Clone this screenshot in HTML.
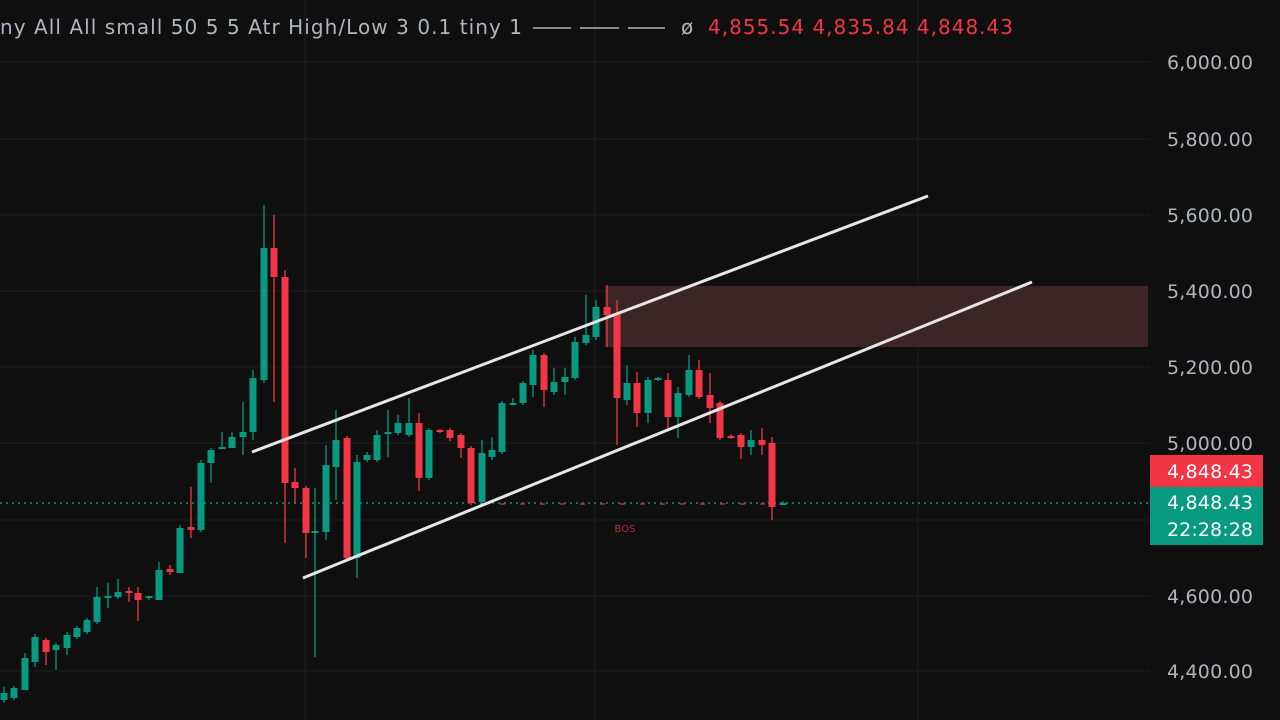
<!DOCTYPE html>
<html><head><meta charset="utf-8"><style>
html,body{margin:0;padding:0;background:#0f0f0f;overflow:hidden}
svg{display:block}
text{font-family:"DejaVu Sans","Liberation Sans",sans-serif}
</style></head><body>
<svg id="s" width="1280" height="720" xmlns="http://www.w3.org/2000/svg">
<rect width="1280" height="720" fill="#0f0f0f"/>
<g stroke="#1c1c1c" stroke-width="1">
<line x1="0" y1="62" x2="1150" y2="62"/><line x1="0" y1="139" x2="1150" y2="139"/>
<line x1="0" y1="215" x2="1150" y2="215"/><line x1="0" y1="291" x2="1150" y2="291"/>
<line x1="0" y1="367" x2="1150" y2="367"/><line x1="0" y1="443" x2="1150" y2="443"/>
<line x1="0" y1="520" x2="1150" y2="520"/><line x1="0" y1="596" x2="1150" y2="596"/>
<line x1="0" y1="671" x2="1150" y2="671"/>
<line x1="305" y1="0" x2="305" y2="720"/><line x1="595" y1="0" x2="595" y2="720"/><line x1="918" y1="0" x2="918" y2="720"/>
</g>
<rect x="605" y="286" width="543" height="61" fill="#3b2526"/>
<line x1="0" y1="503" x2="1150" y2="503" stroke="#089981" stroke-width="1.5" stroke-dasharray="2,4"/>
<line x1="480" y1="504" x2="780" y2="504" stroke="#b2323c" stroke-width="1.5" stroke-dasharray="5,15"/>
<text x="625" y="532" fill="#b2323c" font-size="10" text-anchor="middle">BOS</text>
<g id="c"></g>
<line x1="252" y1="452" x2="928" y2="196" stroke="#e6e6e6" stroke-width="3"/>
<line x1="303" y1="578" x2="1032" y2="282" stroke="#e6e6e6" stroke-width="3"/>
<g fill="#b2b5be" font-size="19" text-anchor="end">
<text x="1253" y="69" textLength="86">6,000.00</text><text x="1253" y="146" textLength="86">5,800.00</text>
<text x="1253" y="222" textLength="86">5,600.00</text><text x="1253" y="298" textLength="86">5,400.00</text>
<text x="1253" y="374" textLength="86">5,200.00</text><text x="1253" y="450" textLength="86">5,000.00</text>
<text x="1253" y="603" textLength="86">4,600.00</text><text x="1253" y="678" textLength="86">4,400.00</text>
</g>
<rect x="1150" y="455" width="113" height="32" fill="#f23645"/>
<rect x="1150" y="487" width="113" height="58" fill="#089981"/>
<g fill="#fff" font-size="19" text-anchor="end">
<text x="1253" y="478" textLength="86">4,848.43</text><text x="1253" y="509" textLength="86">4,848.43</text><text x="1253" y="536" textLength="86">22:28:28</text>
</g>
<text x="0" y="34" font-size="20" fill="#b2b5be" textLength="522">ny All All small 50 5 5 Atr High/Low 3 0.1 tiny 1</text>
<g stroke="#b2b5be" stroke-width="1.5"><line x1="533" y1="28" x2="571" y2="28"/><line x1="580" y1="28" x2="619" y2="28"/><line x1="628" y1="28" x2="665" y2="28"/></g>
<text x="681" y="34" font-size="20" fill="#b2b5be">ø</text>
<text x="708" y="34" font-size="20" fill="#f23645" textLength="305">4,855.54  4,835.84  4,848.43</text>
</svg>
<script>
var d=[[4,700,693,703,687],[14,698,688,700,686],[25,690,658,690,653],[35,662,637,667,634],[46,640,652,665,638],[56,650,645,670,643],[67,648,635,655,632],[77,637,628,639,626],[87,632,620,634,618],[97,622,597,624,587],[108,598,596,608,583],[118,597,592,599,579],[129,591,593,602,587],[138,593,600,621,587],[149,598,596,600,596],[159,600,570,600,562],[170,569,572,575,565],[180,573,528,573,525],[191,527,530,538,487],[201,530,463,532,460],[211,463,450,483,448],[222,449,447,449,432],[232,448,437,448,432],[243,437,432,455,402],[253,432,378,440,370],[264,380,248,383,205],[274,248,277,402,215],[285,277,483,543,270],[295,482,488,503,468],[306,488,533,558,486],[315,533,531,657,488],[326,532,465,540,445],[336,467,440,500,410],[347,438,558,560,436],[357,558,462,578,455],[367,460,455,462,452],[377,460,435,462,430],[388,434,432,457,410],[398,433,423,435,415],[409,435,423,437,398],[419,423,478,491,413],[429,478,430,480,428],[440,430,432,433,429],[450,430,438,441,428],[461,435,448,458,433],[471,448,503,505,446],[482,502,453,504,440],[492,457,450,460,437],[502,452,403,454,401],[513,405,403,405,398],[523,403,383,405,381],[533,385,355,397,350],[544,355,390,407,353],[554,392,382,395,368],[565,382,377,395,368],[575,378,342,380,337],[586,343,335,345,295],[596,337,307,340,300],[607,307,315,347,285],[617,313,398,445,300],[627,400,383,405,365],[637,383,413,427,372],[648,413,380,423,377],[658,380,378,381,377],[668,380,417,430,373],[678,417,393,438,387],[689,395,370,397,355],[699,370,397,399,360],[710,395,408,423,373],[720,403,438,440,401],[731,436,438,439,434],[741,435,447,459,433],[751,447,440,455,430],[762,440,445,455,428],[772,443,507,520,437],[783,505,503,505,501]];
var g=document.getElementById('c'),h='';
d.forEach(function(c){var up=c[2]<=c[1],col=up?'#089981':'#f23645',t=Math.min(c[1],c[2]),b=Math.max(c[1],c[2]);
h+='<line x1="'+c[0]+'" y1="'+c[3]+'" x2="'+c[0]+'" y2="'+c[4]+'" stroke="'+col+'" stroke-width="1.3"/>';
h+='<rect x="'+(c[0]-3.5)+'" y="'+t+'" width="7" height="'+Math.max(2,b-t)+'" fill="'+col+'"/>';});
g.innerHTML=h;
</script>
</body></html>
